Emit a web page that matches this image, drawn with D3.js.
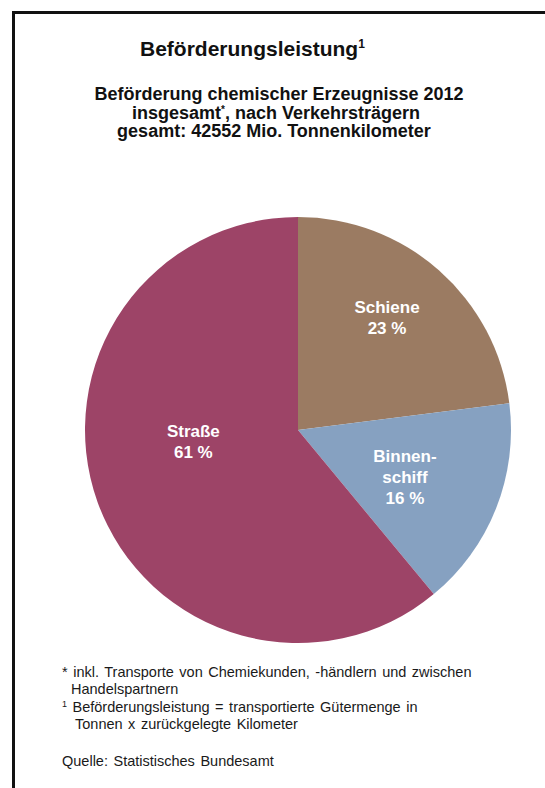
<!DOCTYPE html>
<html><head><meta charset="utf-8">
<script src="https://cdn.jsdelivr.net/npm/d3@7"></script>
<style>html,body{margin:0;padding:0;background:#fff;overflow:hidden}svg{display:block}</style>
</head><body>
<script>
const categories = ["Schiene", "Binnenschiff", "Straße"];
const values = [23, 16, 61];
const labelLines = [["Schiene", "23 %"], ["Binnen-", "schiff", "16 %"], ["Straße", "61 %"]];
const colors = ["#9b7b62", "#86a1c1", "#9d4467"];
const titleText = "Beförderungsleistung";
const subtitleLines = [["Beförderung chemischer Erzeugnisse 2012"], ["insgesamt", "*", ", nach Verkehrsträgern"], ["gesamt: 42552 Mio. Tonnenkilometer"]];
const footnotes = [
  {mark: "*", text: " inkl. Transporte von Chemiekunden, -händlern und zwischen", x: 62, y: 677},
  {mark: "", text: "Handelspartnern", x: 71, y: 694},
  {mark: "1", text: " Beförderungsleistung = transportierte Gütermenge in", x: 62, y: 712},
  {mark: "", text: "Tonnen x zurückgelegte Kilometer", x: 75, y: 729},
  {mark: "", text: "Quelle: Statistisches Bundesamt", x: 62, y: 766}
];
// label placement: [angle from top in degrees, distance from centre in px]
const labelPlacement = [[38.6, 142.7], [114.2, 117.3], [263.2, 105.4]];

const W = 545, H = 788;
const svg = d3.select("body").append("svg").attr("width", W).attr("height", H);
const font = "'Liberation Sans', Arial, Helvetica, sans-serif";

svg.append("rect").attr("x", 13.5).attr("y", 12.5).attr("width", 700).attr("height", 900)
  .attr("fill", "none").attr("stroke", "#111").attr("stroke-width", 3);

const t = svg.append("text").attr("x", 140).attr("y", 56).attr("text-anchor", "start")
  .attr("font-family", font).attr("font-weight", "bold").attr("font-size", 21).attr("fill", "#111");
t.append("tspan").text(titleText);
t.append("tspan").attr("dy", -8).attr("font-size", 12).text("1");

const subCenters = [279, 276, 274];
subtitleLines.forEach((parts, i) => {
  const st = svg.append("text").attr("x", subCenters[i]).attr("y", 100 + i * 18.5).attr("text-anchor", "middle")
    .attr("font-family", font).attr("font-weight", "bold").attr("font-size", 18).attr("fill", "#111");
  parts.forEach((p, k) => {
    if (p === "*") st.append("tspan").attr("font-size", 10).attr("dy", -6).text(p);
    else st.append("tspan").attr("dy", k > 0 && parts[k - 1] === "*" ? 6 : 0).text(p);
  });
});

const cx = 298, cy = 430, R = 213;
const pie = d3.pie().sort(null).value(d => d)(values);
const arc = d3.arc().innerRadius(0).outerRadius(R);
const g = svg.append("g").attr("transform", `translate(${cx},${cy})`);
g.selectAll("path").data(pie).join("path").attr("d", arc).attr("fill", (d, i) => colors[i]);

pie.forEach((d, i) => {
  const [ang, rr] = labelPlacement[i];
  const a = ang * Math.PI / 180;
  const x = Math.sin(a) * rr, y = -Math.cos(a) * rr;
  const lines = labelLines[i];
  const lh = 21;
  const y0 = y - (lines.length - 1) * lh / 2 + 5;
  lines.forEach((l, j) => {
    g.append("text").attr("x", x).attr("y", y0 + j * lh).attr("text-anchor", "middle")
      .attr("font-family", font).attr("font-weight", "bold").attr("font-size", 17).attr("fill", "#fff")
      .text(l);
  });
});

footnotes.forEach(f => {
  const tx = svg.append("text").attr("x", f.x).attr("y", f.y)
    .attr("font-family", font).attr("font-size", 14.5).attr("word-spacing", 1.5).attr("fill", "#1a1a1a");
  if (f.mark === "1") tx.append("tspan").attr("font-size", 9).attr("dy", -5).text("1");
  else if (f.mark) tx.append("tspan").text(f.mark);
  tx.append("tspan").attr("dy", f.mark === "1" ? 5 : 0).text(f.text);
});
</script>
</body></html>
